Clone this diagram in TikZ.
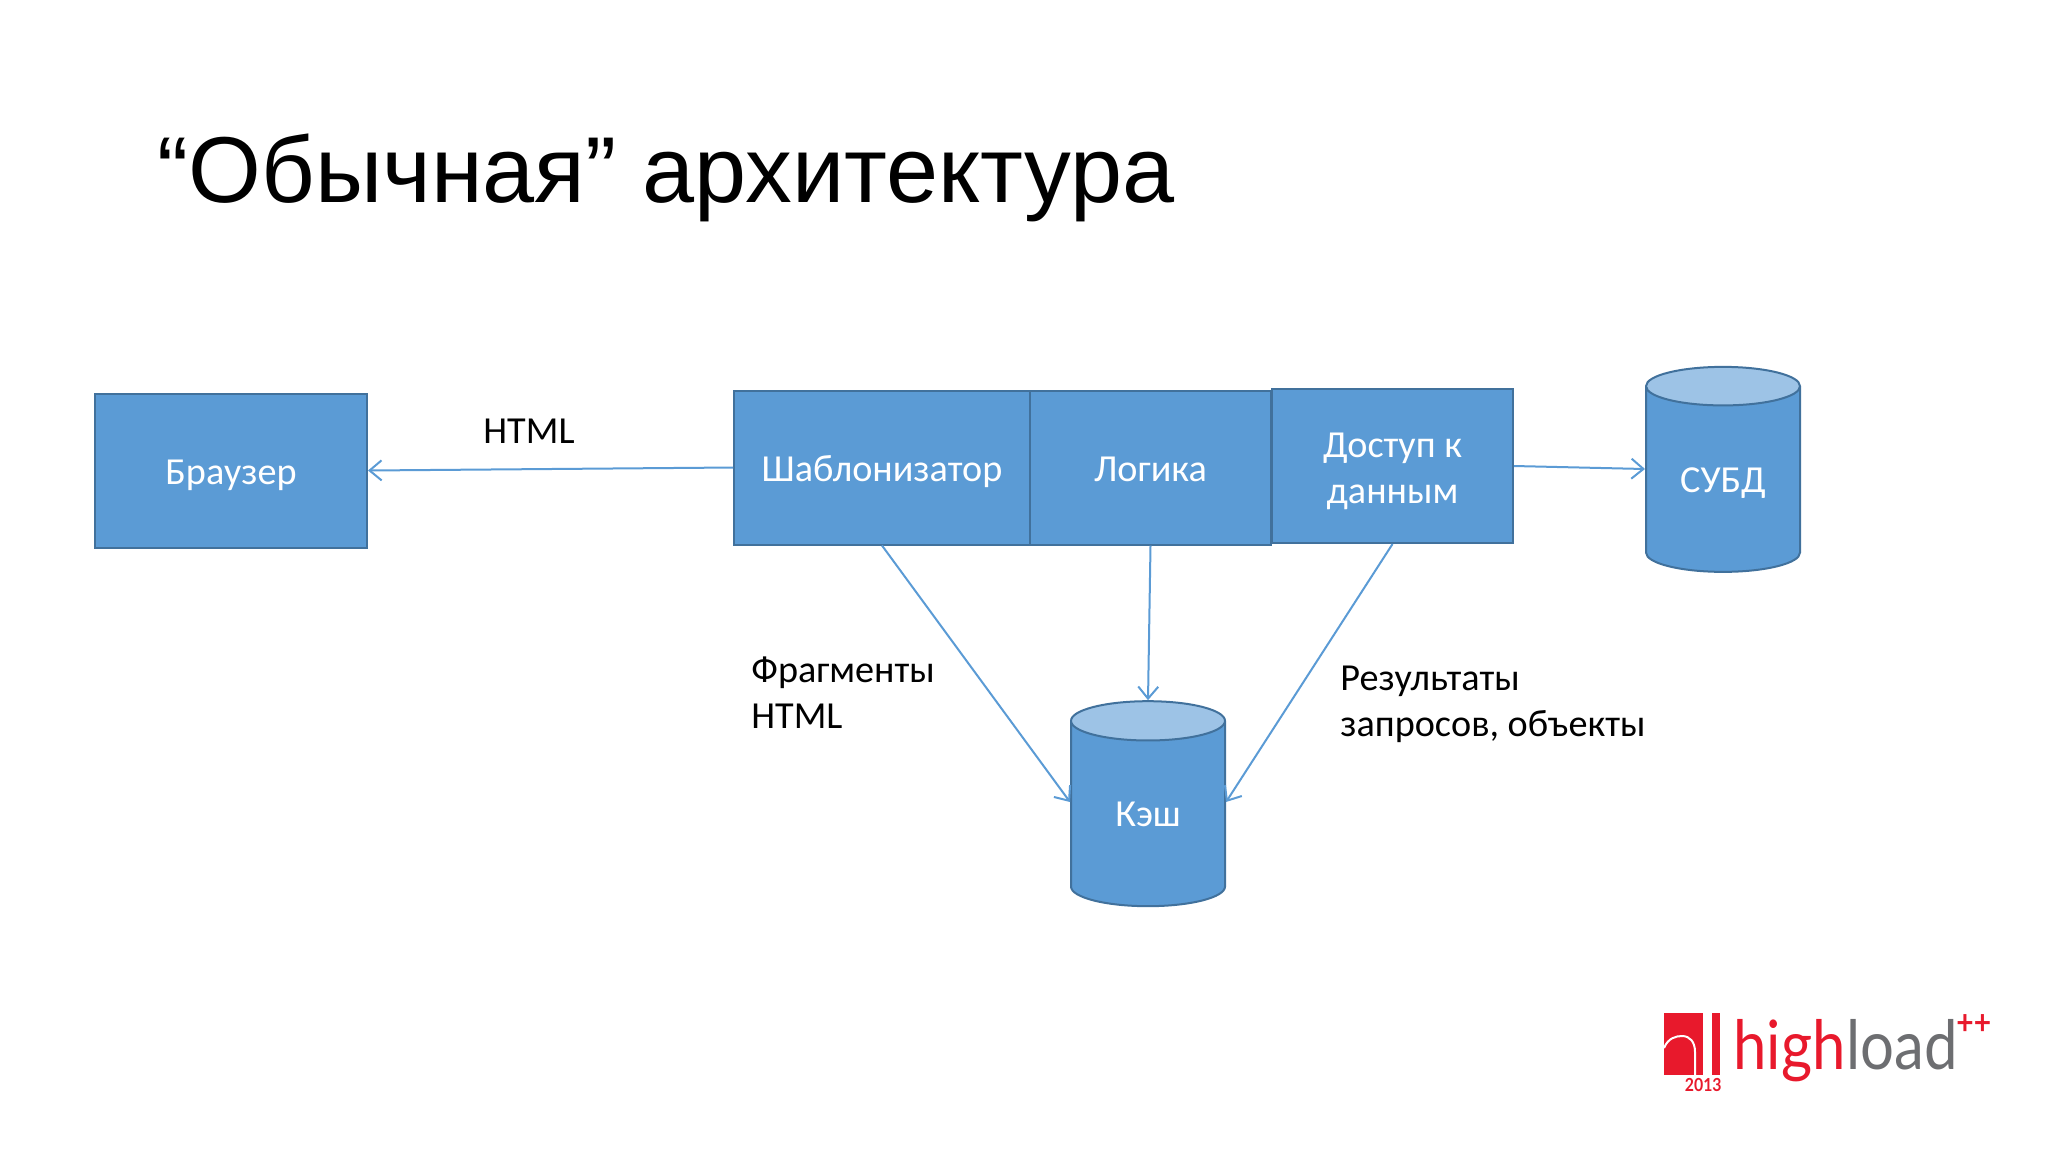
\documentclass[tikz,border=0pt]{standalone}
\usepackage{fontspec}
\setmainfont{Carlito}
\newfontfamily\titlefont{Liberation Sans}
\newfontfamily\logofont[FakeStretch=0.88]{Lato}
\usetikzlibrary{arrows.meta,shapes.geometric}
\definecolor{boxblue}{HTML}{5B9BD5}
\definecolor{boxedge}{HTML}{41719C}
\definecolor{toplight}{HTML}{9DC3E6}
\definecolor{logored}{HTML}{E8192C}
\definecolor{logogray}{HTML}{6D6E71}

\begin{document}
\begin{tikzpicture}[x=0.5pt, y=-0.5pt,
  box/.style = {shape=rectangle, draw=boxedge, fill=boxblue, line width=1pt,
    text=white, align=center, inner sep=0pt, minimum height=77pt,
    font=\fontsize{19.1}{23}\selectfont},
  oneline/.style = {execute at begin node=\rule[-4pt]{0pt}{21.5pt}},
  db/.style = {shape=cylinder, shape border rotate=90, aspect=0.6, draw=boxedge,
    line width=1pt, cylinder uses custom fill, cylinder body fill=boxblue,
    cylinder end fill=toplight, text=white, inner sep=0pt, minimum width=77pt,
    minimum height=102.5pt, font=\fontsize{19.1}{23}\selectfont},
  note/.style = {align=left, inner sep=0pt, font=\fontsize{19.1}{23}\selectfont},
  link/.style = {draw=boxblue, line width=1pt,
    -{Straight Barb[length=6pt, width=10pt]}}]

  \useasboundingbox (0,0) rectangle (2048,1152);

  \node [anchor=base west, inner sep=0pt, font=\titlefont\fontsize{46.8}{50}\selectfont]
    (title) at (157,202) {“Обычная” архитектура};

  \node [box, oneline, minimum width=136pt] (browser) at (231,470.5) {Браузер};
  \node [box, oneline, minimum width=148pt] (templater) at (882,467.5) {Шаблонизатор};
  \node [box, oneline, minimum width=120.5pt] (logic) at (1150.5,467.5) {Логика};
  \node [box, minimum width=120.5pt] (access) at (1392.5,466) {\rule{0pt}{18pt}Доступ к\\данным};
  \node [db, aspect=0.45] (dbms) at (1723,479.5) {\raisebox{-2pt}[\height][\depth]{СУБД}};
  \node [db] (cache) at (1148,814) {Кэш};

  \draw [link] (templater.west) -- (browser.east);
  \draw [link] (access.east) -- ([yshift=5.25pt]dbms.west);
  \draw [link] (templater.south) -- ([yshift=6pt]cache.west);
  \draw [link] (logic.south) -- (cache.top);
  \draw [link] (access.south) -- ([yshift=6pt]cache.east);

  \node [note] (htmllabel) at (529,431) {HTML};
  \node [note, anchor=west] (fragments) at (751,693) {Фрагменты\\HTML};
  \node [note, anchor=west] (results) at (1340,704) {Результаты\\запросов, объекты};

  % logo
  \fill [logored] (1664,1013) rectangle (1703,1075);
  \fill [logored] (1712,1013) rectangle (1720,1075);
  \draw [white, line width=1pt] (1664,1048) .. controls (1668,1038) and (1676,1036) .. (1682,1036)
    .. controls (1690,1036) and (1695,1042) .. (1695,1052) -- (1695,1075);
  \node [anchor=base west, inner sep=0pt, text=logored, font=\logofont\fontsize{34}{34}\selectfont]
    (high) at (1733,1069) {high};
  \node [anchor=base west, inner sep=0pt, text=logogray, font=\logofont\fontsize{34}{34}\selectfont]
    (load) at (high.base east) {load};
  \node [anchor=base west, inner sep=0pt, text=logored, font=\logofont\bfseries\fontsize{17}{17}\selectfont]
    (plus) at (1956,1034) {++};
  \node [anchor=base east, inner sep=0pt, text=logored, font=\logofont\bfseries\fontsize{9}{9}\selectfont]
    (year) at (1722,1091) {2013};
\end{tikzpicture}
\end{document}
